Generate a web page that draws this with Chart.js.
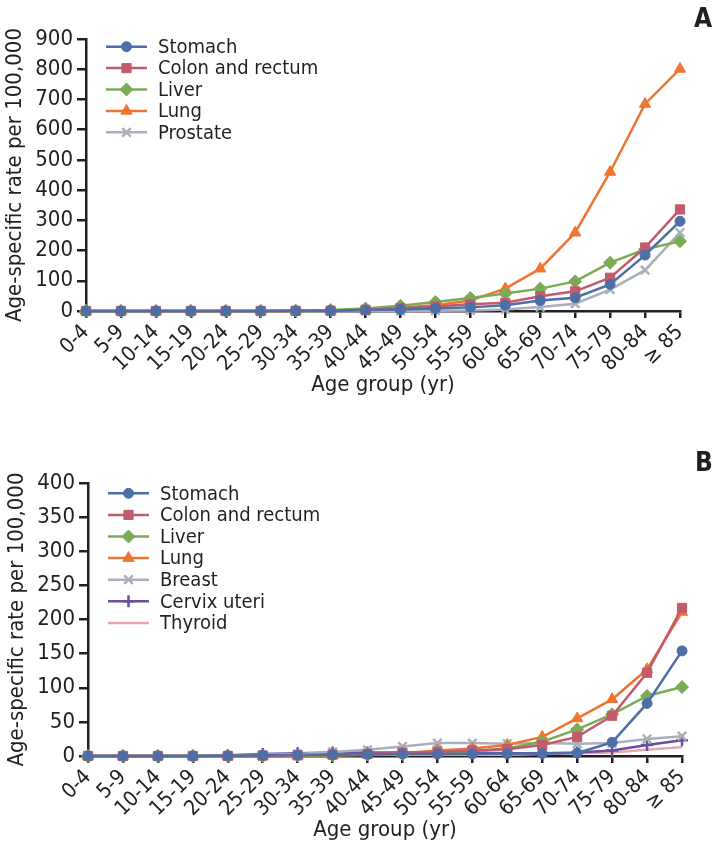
<!DOCTYPE html>
<html>
<head>
<meta charset="utf-8">
<script src="https://cdn.jsdelivr.net/npm/chart.js@4.4.1/dist/chart.umd.min.js"></script>
<style>
  body { margin: 0; background: #fff; width: 719px; height: 852px; position: relative; overflow: hidden; }
  .wrap { position: absolute; left: 0; width: 719px; }
  #wrapA { top: 0; height: 410px; }
  #wrapB { top: 430px; height: 422px; }
  .tag { position: absolute; font-family: 'Liberation Sans Narrow', 'Arial Narrow', 'DejaVu Sans Condensed', sans-serif;
         font-weight: bold; font-size: 26px; color: #231f20; line-height: 26px; }
</style>
</head>
<body>
<div class="wrap" id="wrapA"><canvas id="chartA" width="719" height="410"></canvas></div>
<div class="wrap" id="wrapB"><canvas id="chartB" width="719" height="422"></canvas></div>
<div class="tag" style="left:694px;top:5px">A</div>
<div class="tag" style="left:695px;top:449px">B</div>
<script>
// age groups on the x axis
var ageGroups = ['0-4', '5-9', '10-14', '15-19', '20-24', '25-29', '30-34', '35-39', '40-44',
  '45-49', '50-54', '55-59', '60-64', '65-69', '70-74', '75-79', '80-84', '\u2265 85'];

// panel A (men), rate per 100,000
var stomachA  = [0, 0, 0, 0, 0, 0, 0.5, 1, 3, 5, 8, 12, 19, 35, 44, 88, 185, 297];
var colonA    = [0, 0, 0, 0, 0, 0, 0.5, 1, 4, 9, 15, 22, 27, 49, 65, 110, 210, 336];
var liverA    = [0, 0, 0, 0, 0, 0, 1, 3, 8, 17, 30, 43, 58, 74, 98, 160, 204, 231];
var lungA     = [0, 0, 0, 0, 0, 0, 0, 1, 3, 11, 19, 35, 74, 140, 259, 460, 685, 801];
var prostateA = [0, 0, 0, 0, 0, 0, 0, 0, 0, 0, 1, 2, 5, 13, 24, 71, 135, 259];

// panel B (women)
var stomachB = [0, 0, 0, 0, 0.5, 1, 1.5, 2, 2.5, 3, 3, 3, 3.5, 3.5, 4.5, 20, 77, 154];
var colonB   = [0, 0, 0, 0, 0, 0.5, 1, 2, 3, 5, 6, 8, 10, 16, 28, 59, 122, 217];
var liverB   = [0, 0, 0, 0, 0, 0, 0.5, 1, 2, 3, 5, 7, 11, 21, 39, 61, 88, 101];
var lungB    = [0, 0, 0, 0, 0, 0, 0.5, 1, 2, 4, 8, 11, 16, 28, 55, 83, 127, 211];
var breastB  = [0, 0, 0, 0, 0.5, 2, 3, 6, 9, 14, 19, 19, 18, 19, 18, 19, 25, 29];
var cervixB  = [0, 0, 0, 0, 1, 3, 4, 5, 5, 5, 5, 5, 4, 4, 5, 8, 16, 23];
var thyroidB = [0, 0, 0, 0, 0.5, 1, 1, 1.5, 2, 2, 2, 2, 2, 3, 4, 5, 9, 13];

var yTicksA = { max: 900, step: 100 };
var yTicksB = { max: 400, step: 50 };

var ink = '#231f20';
var fam = "'Liberation Sans Narrow', 'Arial Narrow', 'DejaVu Sans Condensed', sans-serif";
Chart.defaults.font.family = fam;
Chart.defaults.color = ink;

function series(label, data, color, style, radius, bw) {
  return {
    label: label, data: data,
    borderColor: color, backgroundColor: color,
    pointBackgroundColor: color, pointBorderColor: color,
    pointStyle: style, pointRadius: radius, pointBorderWidth: bw || 1,
    pointHoverRadius: radius, borderWidth: 2.5, tension: 0, clip: false
  };
}

// legend drawn inside the plot, line + marker like the original
var insideLegend = {
  id: 'insideLegend',
  afterDraw: function(chart, args, opts) {
    var ctx = chart.ctx;
    ctx.save();
    ctx.font = '20px ' + fam;
    ctx.textBaseline = 'middle';
    chart.data.datasets.forEach(function(ds, i) {
      var cy = opts.y + i * opts.row;
      ctx.strokeStyle = ds.borderColor;
      ctx.lineWidth = 2.5;
      ctx.beginPath();
      ctx.moveTo(opts.x, cy);
      ctx.lineTo(opts.x + 41, cy);
      ctx.stroke();
      if (ds.pointRadius > 0) {
        ctx.fillStyle = ds.pointBackgroundColor;
        ctx.strokeStyle = ds.pointBorderColor;
        ctx.lineWidth = ds.pointBorderWidth;
        Chart.helpers.drawPoint(ctx, { pointStyle: ds.pointStyle, radius: ds.pointRadius, rotation: 0,
          borderWidth: ds.pointBorderWidth }, opts.x + 20.5, cy);
      }
      ctx.fillStyle = ink;
      ctx.fillText(ds.label, opts.x + 52, cy + 1);
    });
    ctx.restore();
  }
};

function makeOptions(ticks, yWidth, xHeight, pad, legendPos, yTitlePad, xTitlePad) {
  return {
    responsive: false,
    animation: false,
    layout: { padding: pad },
    plugins: { legend: { display: false }, tooltip: { enabled: false }, insideLegend: legendPos },
    scales: {
      x: {
        offset: false,
        border: { color: ink, width: 2.5 },
        grid: { drawOnChartArea: false, drawTicks: true, tickLength: 7, color: ink, lineWidth: 2.5 },
        ticks: { autoSkip: false, minRotation: 45, maxRotation: 45, padding: 2, color: ink, font: { size: 21 } },
        title: { display: true, text: 'Age group (yr)', color: ink, font: { size: 22 }, padding: { top: 0, bottom: xTitlePad } },
        afterFit: function(s) { s.height = xHeight; }
      },
      y: {
        min: 0, max: ticks.max,
        border: { color: ink, width: 2.5 },
        grid: { drawOnChartArea: false, drawTicks: true, tickLength: 9, color: ink, lineWidth: 2.5 },
        ticks: { stepSize: ticks.step, padding: 4, color: ink, font: { size: 22 } },
        title: { display: true, text: 'Age-specific rate per 100,000', color: ink, font: { size: 22 }, padding: { top: yTitlePad, bottom: 0 } },
        afterFit: function(s) { s.width = yWidth; }
      }
    }
  };
}

var blue = '#4e6ea6', red = '#c25b6c', green = '#7bab55', orange = '#f07431',
    grey = '#a9b0bb', purple = '#6b4f9e', pink = '#e6a6ad';

new Chart(document.getElementById('chartA'), {
  type: 'line',
  data: {
    labels: ageGroups,
    datasets: [
      series('Stomach', stomachA, blue, 'circle', 5),
      series('Colon and rectum', colonA, red, 'rect', 6.5),
      series('Liver', liverA, green, 'rectRot', 6.5),
      series('Lung', lungA, orange, 'triangle', 6.5),
      series('Prostate', prostateA, grey, 'crossRot', 6, 2.5)
    ]
  },
  options: makeOptions(yTicksA, 86, 99, { top: 39, right: 39, left: 0, bottom: 0 },
    { x: 106, y: 46.7, row: 21.4 }, 2, 12),
  plugins: [insideLegend]
});

new Chart(document.getElementById('chartB'), {
  type: 'line',
  data: {
    labels: ageGroups,
    datasets: [
      series('Stomach', stomachB, blue, 'circle', 5),
      series('Colon and rectum', colonB, red, 'rect', 6.5),
      series('Liver', liverB, green, 'rectRot', 6.5),
      series('Lung', lungB, orange, 'triangle', 6.5),
      series('Breast', breastB, grey, 'crossRot', 6, 2.5),
      series('Cervix uteri', cervixB, purple, 'cross', 6, 2.5),
      series('Thyroid', thyroidB, pink, 'circle', 0)
    ]
  },
  options: makeOptions(yTicksB, 88, 96, { top: 53, right: 37, left: 0, bottom: 0 },
    { x: 108, y: 63.3, row: 21.6 }, 4, 9),
  plugins: [insideLegend]
});
</script>
</body>
</html>
